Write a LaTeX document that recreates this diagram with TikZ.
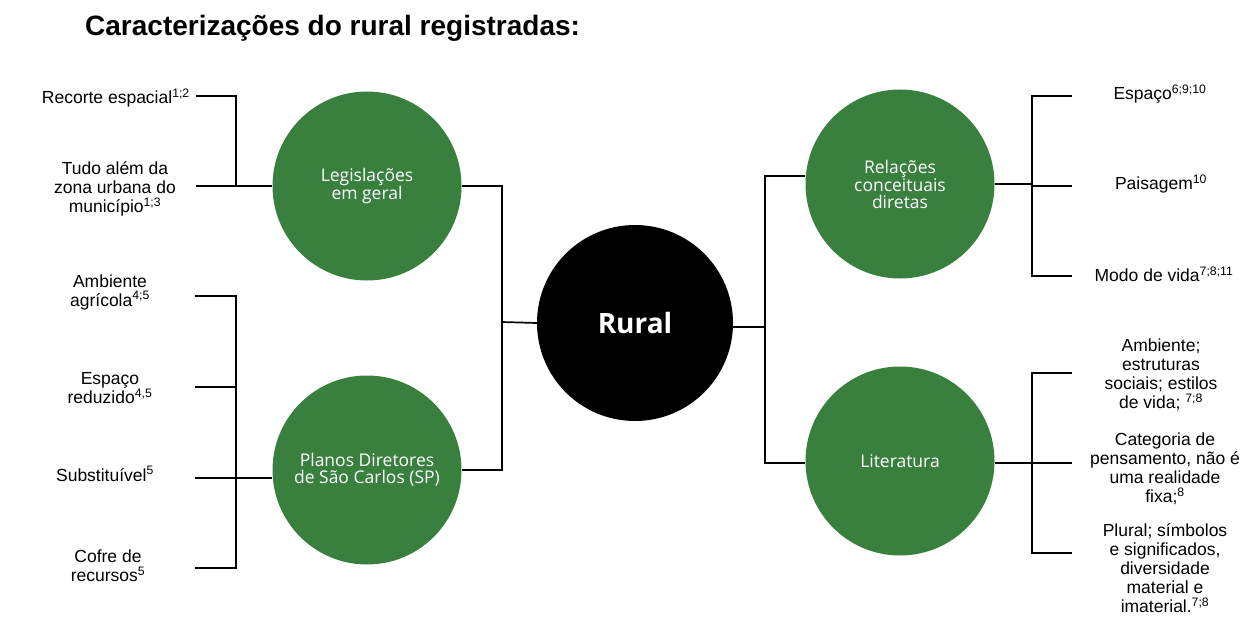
\documentclass[tikz,border=0pt]{standalone}
\usepackage{fontspec}
\setmainfont{Liberation Sans}
\newfontfamily\circfont{Open Sans}
\usetikzlibrary{positioning}
\definecolor{rgreen}{RGB}{57,127,62}

\begin{document}
\begin{tikzpicture}[x=1pt,y=-1pt,
    topic/.style = {circle, fill=rgreen, minimum size=189pt, inner sep=0pt, align=center,
      text=white, font=\circfont\fontsize{17.5}{17}\selectfont},
    core/.style = {circle, fill=black, minimum size=196pt, inner sep=0pt,
      text=white, font=\circfont\bfseries\fontsize{28}{30}\selectfont},
    lbl/.style = {align=center, inner sep=0pt, font=\fontsize{17.5}{19}\selectfont},
    link/.style = {line width=1.7pt}]
      \useasboundingbox (0,0) rectangle (1244,623);
      \node[anchor=base west, inner sep=0pt, font=\bfseries\fontsize{28}{30}\selectfont]
        (title) at (85,36) {Caracterizações do rural registradas:};
      % circles
      \node[core](rural) at (635,323) {Rural};
      \node[topic](leg) at (367,186) {Legislações\\em geral};
      \node[topic](plan) at (367,470) {Planos Diretores\\de São Carlos (SP)};
      \node[topic](rel) at (900,184) {Relações\\conceituais\\diretas};
      \node[topic](lit) at (900,461) {Literatura};
      % labels
      \node[lbl, anchor=east](l1) at (190,98) {Recorte espacial\textsuperscript{1;2}};
      \node[lbl](l2) at (115,189) {Tudo além da\\zona urbana do\\município\textsuperscript{1;3}};
      \node[lbl](l3) at (110,292) {Ambiente\\agrícola\textsuperscript{4;5}};
      \node[lbl](l4) at (110,388) {Espaço\\reduzido\textsuperscript{4,5}};
      \node[lbl](l5) at (105,474) {Substituível\textsuperscript{5}};
      \node[lbl](l6) at (108,566) {Cofre de\\recursos\textsuperscript{5}};
      \node[lbl](r1) at (1160,94) {Espaço\textsuperscript{6;9;10}};
      \node[lbl](r2) at (1161,184) {Paisagem\textsuperscript{10}};
      \node[lbl](r3) at (1164,274) {Modo de vida\textsuperscript{7;8;11}};
      \node[lbl](r4) at (1161,375) {Ambiente;\\estruturas\\sociais; estilos\\de vida; \textsuperscript{7;8}};
      \node[lbl](r5) at (1165,469) {Categoria de\\pensamento, não é\\uma realidade\\fixa;\textsuperscript{8}};
      \node[lbl](r6) at (1165,568) {Plural; símbolos\\e significados,\\diversidade\\material e\\imaterial.\textsuperscript{7;8}};
      % bracket ends
      \coordinate (la1) at (196,96);
      \coordinate (la2) at (196,186);
      \coordinate (lja) at (236,186);
      \coordinate (lb1) at (195,296);
      \coordinate (lb2) at (195,387);
      \coordinate (lb3) at (195,478);
      \coordinate (lb4) at (195,568);
      \coordinate (ljb) at (236,478);
      \coordinate (jl) at (502,322);
      \coordinate (jr) at (765,327);
      \coordinate (ra1) at (1072,96);
      \coordinate (ra2) at (1072,186);
      \coordinate (ra3) at (1072,276);
      \coordinate (rja) at (1032,186);
      \coordinate (rb1) at (1072,373);
      \coordinate (rb2) at (1072,463);
      \coordinate (rb3) at (1072,553);
      \coordinate (rjb) at (1032,463);
      % connectors
      \draw[link] (la1) -| (lja) -- (leg.west);
      \draw[link] (la2) -- (lja);
      \draw[link] (lb1) -| (ljb) |- (lb4);
      \draw[link] (lb2) -- (lb2 -| ljb);
      \draw[link] (lb3) -- (ljb) -- (ljb -| plan.west);
      \draw[link] (leg.east) -| (jl) |- (plan.east);
      \draw[link] (rural.west) -- (jl);
      \draw[link] (jr -| rural.east) -- (jr);
      \draw[link] ([yshift=8pt]rel.west) -| (jr) |- ([yshift=-2pt]lit.west);
      \draw[link] (rel.east -| rja) -- (rel.east);
      \draw[link] (ra1) -| (rja) |- (ra3);
      \draw[link] (ra2) -- (rja);
      \draw[link] (lit.east |- rjb) -- (rjb);
      \draw[link] (rb1) -| (rjb) |- (rb3);
      \draw[link] (rb2) -- (rjb);
\end{tikzpicture}
\end{document}
